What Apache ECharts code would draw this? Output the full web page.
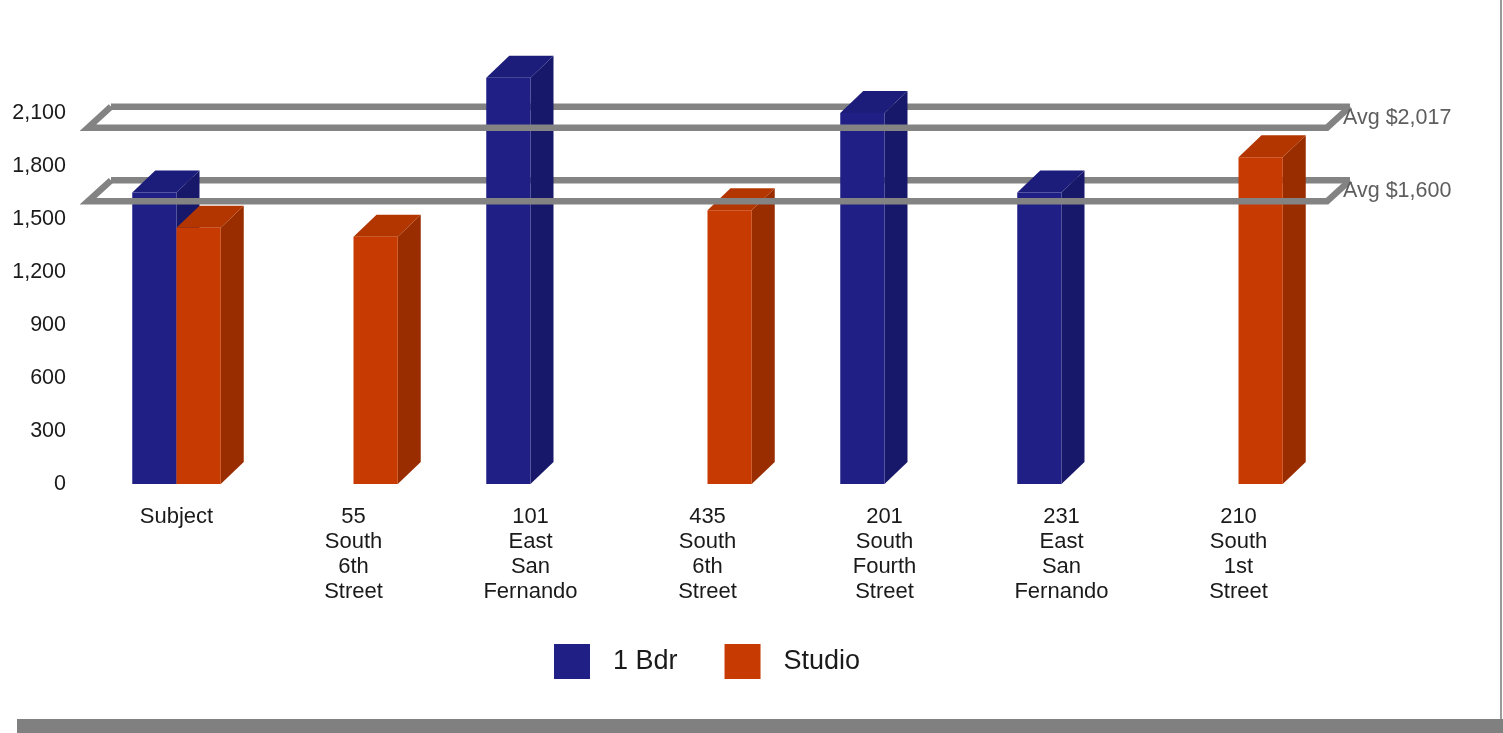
<!DOCTYPE html>
<html>
<head>
<meta charset="utf-8">
<title>Rent comparison</title>
<script src="https://cdn.jsdelivr.net/npm/echarts@6/dist/echarts.min.js"></script>
<style>
  html, body { margin: 0; padding: 0; background: #ffffff; }
  #chart { width: 1503px; height: 733px; }
</style>
</head>
<body>
<div id="chart"></div>
<script>
// Properties compared
const categories = [
  'Subject',
  '55\nSouth\n6th\nStreet',
  '101\nEast\nSan\nFernando',
  '435\nSouth\n6th\nStreet',
  '201\nSouth\nFourth\nStreet',
  '231\nEast\nSan\nFernando',
  '210\nSouth\n1st\nStreet'
];
// Monthly rent by unit type (null = no unit of that type)
const oneBdr = [1650, null, 2300, null, 2100, 1650, null];
const studio = [1450, 1400, null, 1550, null, null, 1850];
// Average rent lines
const avgValues = [2017, 1600];
// Y axis ticks
const yMin = 0, yMax = 2100, yStep = 300;

const FONT = '"Liberation Sans", Arial, sans-serif';
const DX = 23, DY = 22;   // 3D depth offset of bars and planes

const palettes = [
  { front: '#1f1f86', side: '#18186a', top: '#1c1c7b' },
  { front: '#c73a02', side: '#9a2d00', top: '#b33600' }
];

function toPoints(arr) {
  return arr.map((v, i) => [i, v]).filter(d => d[1] != null);
}

function barRenderer(slot) {
  const pal = palettes[slot];
  return function (params, api) {
    const idx = api.value(0), v = api.value(1);
    const base = api.coord([idx, 0]);
    const top = api.coord([idx, v]);
    const band = api.size([1, 0])[0];
    const w = band * 0.25;
    const x0 = base[0] + (slot === 0 ? -w : 0);
    const yT = top[1], yB = base[1];
    return {
      type: 'group',
      children: [
        { type: 'polygon', shape: { points: [[x0 + w, yT], [x0 + w + DX, yT - DY], [x0 + w + DX, yB - DY], [x0 + w, yB]] },
          style: { fill: pal.side } },
        { type: 'polygon', shape: { points: [[x0, yT], [x0 + DX, yT - DY], [x0 + w + DX, yT - DY], [x0 + w, yT]] },
          style: { fill: pal.top } },
        { type: 'rect', shape: { x: x0, y: yT, width: w, height: yB - yT },
          style: { fill: pal.front } }
      ]
    };
  };
}

const PLANE_COLOR = '#838383';
const PLANE_W = 6.5;

// Back edge of each average plane (sits behind the bars)
function planeBack(params, api) {
  const cs = params.coordSys;
  const y = api.coord([0, api.value(1)])[1];
  return {
    type: 'polyline',
    shape: { points: [[cs.x + DX, y - DY + 1], [cs.x + cs.width + DX, y - DY + 1]] },
    style: { stroke: PLANE_COLOR, lineWidth: PLANE_W, fill: null }
  };
}

// Front edge, side edges and label of each average plane (in front of the bars)
function planeFront(params, api) {
  const cs = params.coordSys;
  const v = api.value(1);
  const y = api.coord([0, v])[1];
  const xl = cs.x, xr = cs.x + cs.width;
  return {
    type: 'group',
    children: [
      { type: 'polyline',
        shape: { points: [[xl + DX, y - DY + 1], [xl, y], [xr, y], [xr + DX, y - DY + 1]] },
        style: { stroke: PLANE_COLOR, lineWidth: PLANE_W, fill: null, lineJoin: 'miter' } },
      { type: 'text',
        style: { x: xr + DX - 7, y: y - DY / 2 + 1, text: 'Avg $' + v.toLocaleString('en-US'),
                 fill: '#5e5e5e', font: '21.5px ' + FONT, align: 'left', verticalAlign: 'middle' } }
    ]
  };
}

const chart = echarts.init(document.getElementById('chart'), null, { renderer: 'canvas' });
chart.setOption({
  animation: false,
  backgroundColor: '#ffffff',
  grid: { left: 88, right: 176, top: 113, bottom: 249, containLabel: false },
  xAxis: {
    type: 'category',
    data: categories,
    axisLine: { show: false },
    axisTick: { show: false },
    splitLine: { show: false },
    axisLabel: {
      interval: 0, margin: 20, color: '#1a1a1a',
      fontFamily: FONT, fontSize: 22, lineHeight: 25, align: 'center'
    }
  },
  yAxis: {
    type: 'value',
    min: yMin, max: yMax, interval: yStep,
    axisLine: { show: false },
    axisTick: { show: false },
    splitLine: { show: false },
    axisLabel: {
      margin: 22, color: '#1a1a1a', fontFamily: FONT, fontSize: 21.5,
      padding: [3, 0, 0, 0],
      formatter: v => v.toLocaleString('en-US')
    }
  },
  legend: {
    data: ['1 Bdr', 'Studio'],
    left: 554, top: 644,
    padding: 0,
    icon: 'rect',
    itemWidth: 36, itemHeight: 35,
    itemGap: 47,
    textStyle: { fontFamily: FONT, fontSize: 27, color: '#1a1a1a', padding: [3, 0, 0, 18] },
    selectedMode: false
  },
  series: [
    { name: 'avgBack', type: 'custom', z: 1, clip: false, silent: true,
      data: avgValues.map(v => [0, v]), encode: { x: 0, y: 1 }, renderItem: planeBack },
    { name: '1 Bdr', type: 'custom', z: 2, clip: false,
      itemStyle: { color: palettes[0].front },
      data: toPoints(oneBdr), encode: { x: 0, y: 1 }, renderItem: barRenderer(0) },
    { name: 'Studio', type: 'custom', z: 3, clip: false,
      itemStyle: { color: palettes[1].front },
      data: toPoints(studio), encode: { x: 0, y: 1 }, renderItem: barRenderer(1) },
    { name: 'avgFront', type: 'custom', z: 4, clip: false, silent: true,
      data: avgValues.map(v => [0, v]), encode: { x: 0, y: 1 }, renderItem: planeFront }
  ],
  graphic: [
    { type: 'rect', left: 17, top: 719, shape: { width: 1486, height: 14 }, style: { fill: '#808080' } },
    { type: 'rect', left: 1500, top: 0, shape: { width: 2, height: 719 }, style: { fill: '#9a9a9a' } }
  ]
});
</script>
</body>
</html>
